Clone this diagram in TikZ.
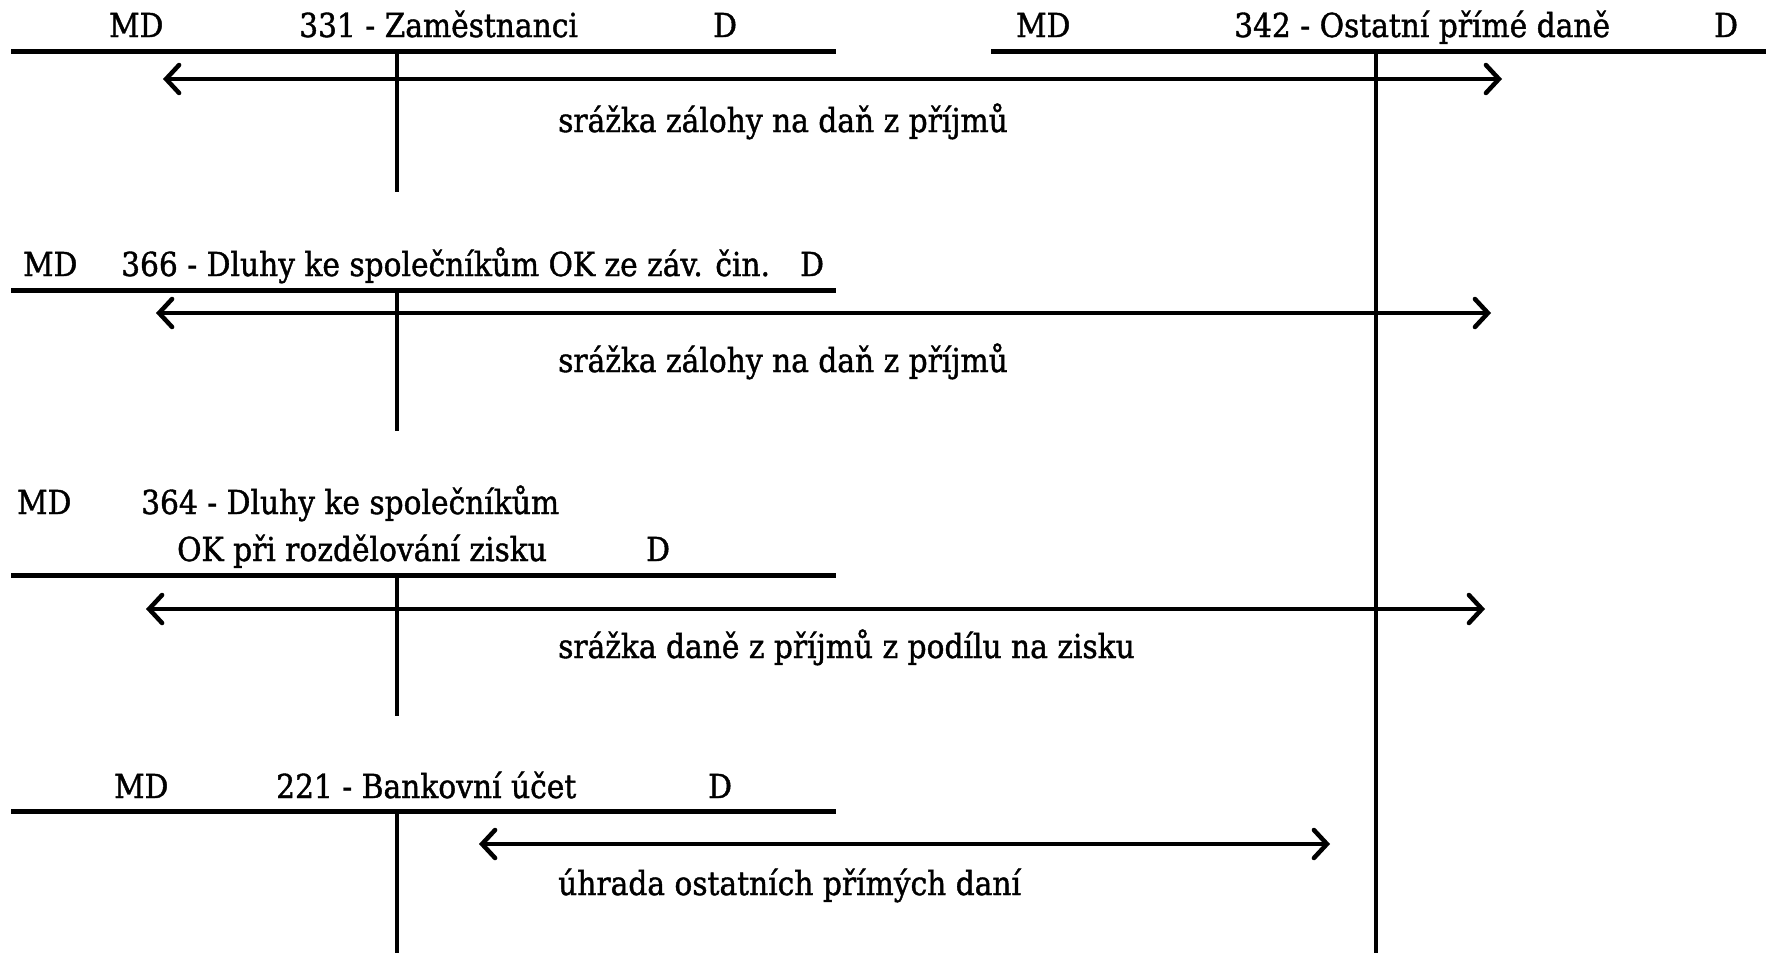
\documentclass[tikz,border=0pt]{standalone}
\usepackage{fontspec}
\setmainfont{DejaVu Serif Condensed}[FakeBold=1.2]
\usetikzlibrary{arrows.meta}
\begin{document}
\begin{tikzpicture}[x=1pt,y=-1pt,
  txt/.style={anchor=base west,inner sep=0pt,font=\fontsize{33}{40}\selectfont},
  ledger/.style={line width=5pt},
  stem/.style={line width=4pt},
  flow/.style={line width=4.5pt,{Straight Barb[length=13pt,width=28pt,line cap=round]}-{Straight Barb[length=13pt,width=28pt,line cap=round]}}]
\useasboundingbox (0,0) rectangle (1767,953);

% 331 - Zaměstnanci
\node[txt] (a1md) at (109,37) {MD};
\node[txt] (a1t) at (299,37) {331 - Zaměstnanci};
\node[txt] (a1d) at (713,37) {D};
\coordinate (a1l) at (11,51); \coordinate (a1r) at (836,51);
\coordinate (a1top) at (397,51); \coordinate (a1bot) at (397,192);
\draw[ledger] (a1l) -- (a1r);
\draw[stem] (a1top) -- (a1bot);

% 342 - Ostatní přímé daně
\node[txt] (bmd) at (1016,37) {MD};
\node[txt] (bt) at (1234,37) {342 - Ostatní přímé daně};
\node[txt] (bd) at (1714,37) {D};
\coordinate (bl) at (991,51); \coordinate (br) at (1766,51);
\coordinate (btop) at (1376,51); \coordinate (bbot) at (1376,953);
\draw[ledger] (bl) -- (br);
\draw[stem] (btop) -- (bbot);

% first transfer
\coordinate (f1a) at (163,79); \coordinate (f1b) at (1502,79);
\draw[flow] (f1a) -- (f1b);
\node[txt] (f1t) at (558,132) {srážka zálohy na daň z příjmů};

% 366 - Dluhy ke společníkům OK ze záv. čin.
\node[txt] (a2md) at (23,276) {MD};
\node[txt] (a2t) at (121,276) {366 - Dluhy ke společníkům OK ze záv. čin.};
\node[txt] (a2d) at (800,276) {D};
\coordinate (a2l) at (11,290); \coordinate (a2r) at (836,290);
\coordinate (a2top) at (397,290); \coordinate (a2bot) at (397,431);
\draw[ledger] (a2l) -- (a2r);
\draw[stem] (a2top) -- (a2bot);

\coordinate (f2a) at (156,313); \coordinate (f2b) at (1491,313);
\draw[flow] (f2a) -- (f2b);
\node[txt] (f2t) at (558,372) {srážka zálohy na daň z příjmů};

% 364 - Dluhy ke společníkům OK při rozdělování zisku
\node[txt] (a3md) at (17,514) {MD};
\node[txt] (a3t) at (141,514) {364 - Dluhy ke společníkům};
\node[txt] (a3u) at (177,561) {OK při rozdělování zisku};
\node[txt] (a3d) at (646,561) {D};
\coordinate (a3l) at (11,575); \coordinate (a3r) at (836,575);
\coordinate (a3top) at (397,575); \coordinate (a3bot) at (397,716);
\draw[ledger] (a3l) -- (a3r);
\draw[stem] (a3top) -- (a3bot);

\coordinate (f3a) at (146,609); \coordinate (f3b) at (1485,609);
\draw[flow] (f3a) -- (f3b);
\node[txt] (f3t) at (558,658) {srážka daně z příjmů z podílu na zisku};

% 221 - Bankovní účet
\node[txt] (a4md) at (114,798) {MD};
\node[txt] (a4t) at (276,798) {221 - Bankovní účet};
\node[txt] (a4d) at (708,798) {D};
\coordinate (a4l) at (11,811); \coordinate (a4r) at (836,811);
\coordinate (a4top) at (397,811); \coordinate (a4bot) at (397,953);
\draw[ledger] (a4l) -- (a4r);
\draw[stem] (a4top) -- (a4bot);

\coordinate (f4a) at (479,844); \coordinate (f4b) at (1330,844);
\draw[flow] (f4a) -- (f4b);
\node[txt] (f4t) at (558,895) {úhrada ostatních přímých daní};
\end{tikzpicture}
\end{document}
